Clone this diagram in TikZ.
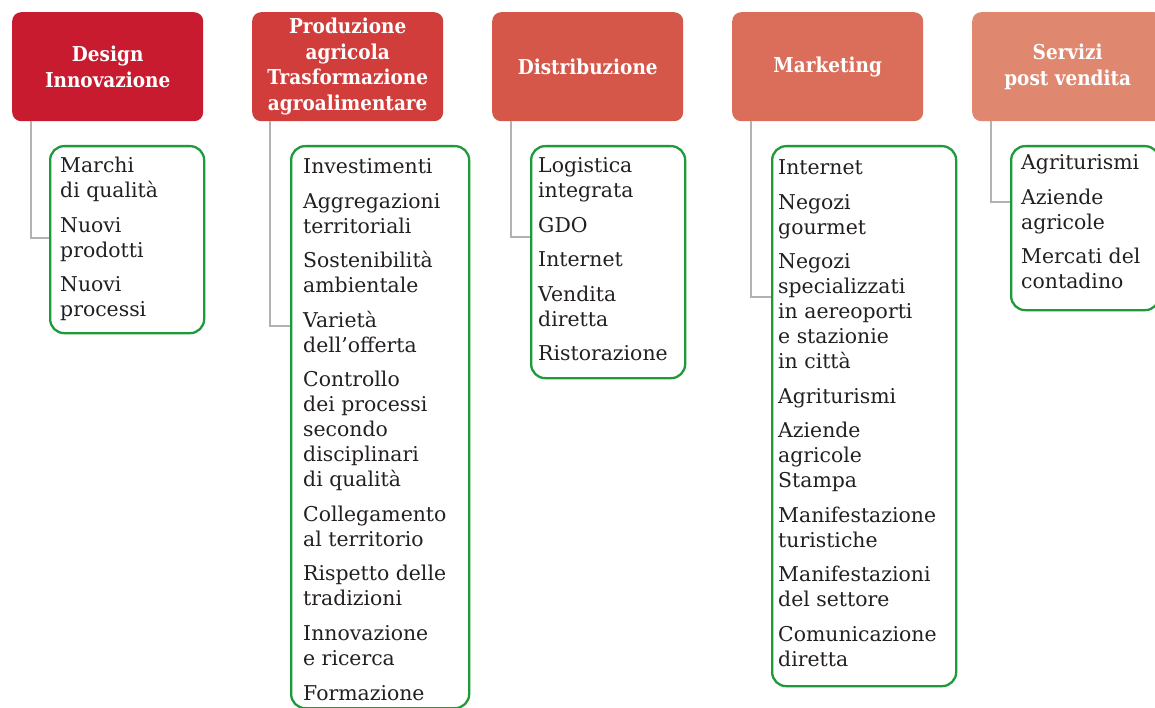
\documentclass[tikz,border=0pt]{standalone}
\usepackage{fontspec}
\setmainfont{DejaVu Serif}
\newfontfamily\hdrfont[FakeStretch=0.9]{DejaVu Serif Bold}
\definecolor{hA}{HTML}{C91B2F}
\definecolor{hB}{HTML}{D13D3B}
\definecolor{hC}{HTML}{D5574A}
\definecolor{hD}{HTML}{DB6E5B}
\definecolor{hE}{HTML}{E08770}
\definecolor{grn}{HTML}{1F9A3A}
\definecolor{gry}{HTML}{B2B2B2}
\definecolor{txt}{HTML}{231F20}
\tikzset{
  hdr/.style={fill=#1, draw=none, rounded corners=9pt, minimum width=191pt, minimum height=109pt,
    anchor=north west, inner sep=0pt, text=white, align=center,
    font=\hdrfont\fontsize{20.5}{25.5}\selectfont},
  gbox/.style={draw=grn, line width=2.3pt, rounded corners=14pt, anchor=north west, inner sep=0pt},
  itm/.style={anchor=base west, inner sep=0pt, text=txt, font=\fontsize{20.4}{25}\selectfont},
  conn/.style={draw=gry, line width=1.8pt}
}
\newcommand{\gap}{\\[9.5pt]}
\newcommand{\itext}[1]{\parbox[t]{180pt}{\raggedright #1}}
\begin{document}
\begin{tikzpicture}[x=1pt,y=-1pt]
\path[use as bounding box] (0,0) rectangle (1155,708);
% headers
\node[hdr=hA] (h1) at (12,12) {Design\\Innovazione};
\node[hdr=hB] (h2) at (252,12) {Produzione\\agricola\\Trasformazione\\agroalimentare};
\node[hdr=hC] (h3) at (492,12) {Distribuzione};
\node[hdr=hD] (h4) at (732,12) {Marketing};
\node[hdr=hE] (h5) at (972,12) {Servizi\\post vendita};
% green boxes
\node[gbox, minimum width=154pt, minimum height=187pt] (g1) at (49,145) {};
\node[gbox, minimum width=178pt, minimum height=562pt] (g2) at (290,145) {};
\node[gbox, minimum width=154pt, minimum height=232pt] (g3) at (530,145) {};
\node[gbox, minimum width=184pt, minimum height=540pt] (g4) at (771,145) {};
\node[gbox, minimum width=148pt, minimum height=164pt] (g5) at (1010,145) {};
% texts
\node[itm] (t1) at (60,173) {\itext{Marchi\\di qualità\gap Nuovi\\prodotti\gap Nuovi\\processi}};
\node[itm] (t2) at (303,174) {\itext{Investimenti\gap Aggregazioni\\territoriali\gap Sostenibilità\\ambientale\gap Varietà\\dell’offerta\gap Controllo\\dei processi\\secondo\\disciplinari\\di qualità\gap Collegamento\\al territorio\gap Rispetto delle\\tradizioni\gap Innovazione\\e ricerca\gap Formazione}};
\node[itm] (t3) at (538,173) {\itext{Logistica\\integrata\gap GDO\gap Internet\gap Vendita\\diretta\gap Ristorazione}};
\node[itm] (t4) at (778,175) {\itext{Internet\gap Negozi\\gourmet\gap Negozi\\specializzati\\in aereoporti\\e stazionie\\in città\gap Agriturismi\gap Aziende\\agricole\\Stampa\gap Manifestazione\\turistiche\gap Manifestazioni\\del settore\gap Comunicazione\\diretta}};
\node[itm] (t5) at (1021,170) {\itext{Agriturismi\gap Aziende\\agricole\gap Mercati del\\contadino}};
% connectors
\coordinate (k1) at (31,238);
\coordinate (k2) at (270,326);
\coordinate (k3) at (511,237);
\coordinate (k4) at (751,297);
\coordinate (k5) at (991,202);
\draw[conn] (h1.south -| k1) |- (g1.west |- k1);
\draw[conn] (h2.south -| k2) |- (g2.west |- k2);
\draw[conn] (h3.south -| k3) |- (g3.west |- k3);
\draw[conn] (h4.south -| k4) |- (g4.west |- k4);
\draw[conn] (h5.south -| k5) |- (g5.west |- k5);
\end{tikzpicture}
\end{document}
